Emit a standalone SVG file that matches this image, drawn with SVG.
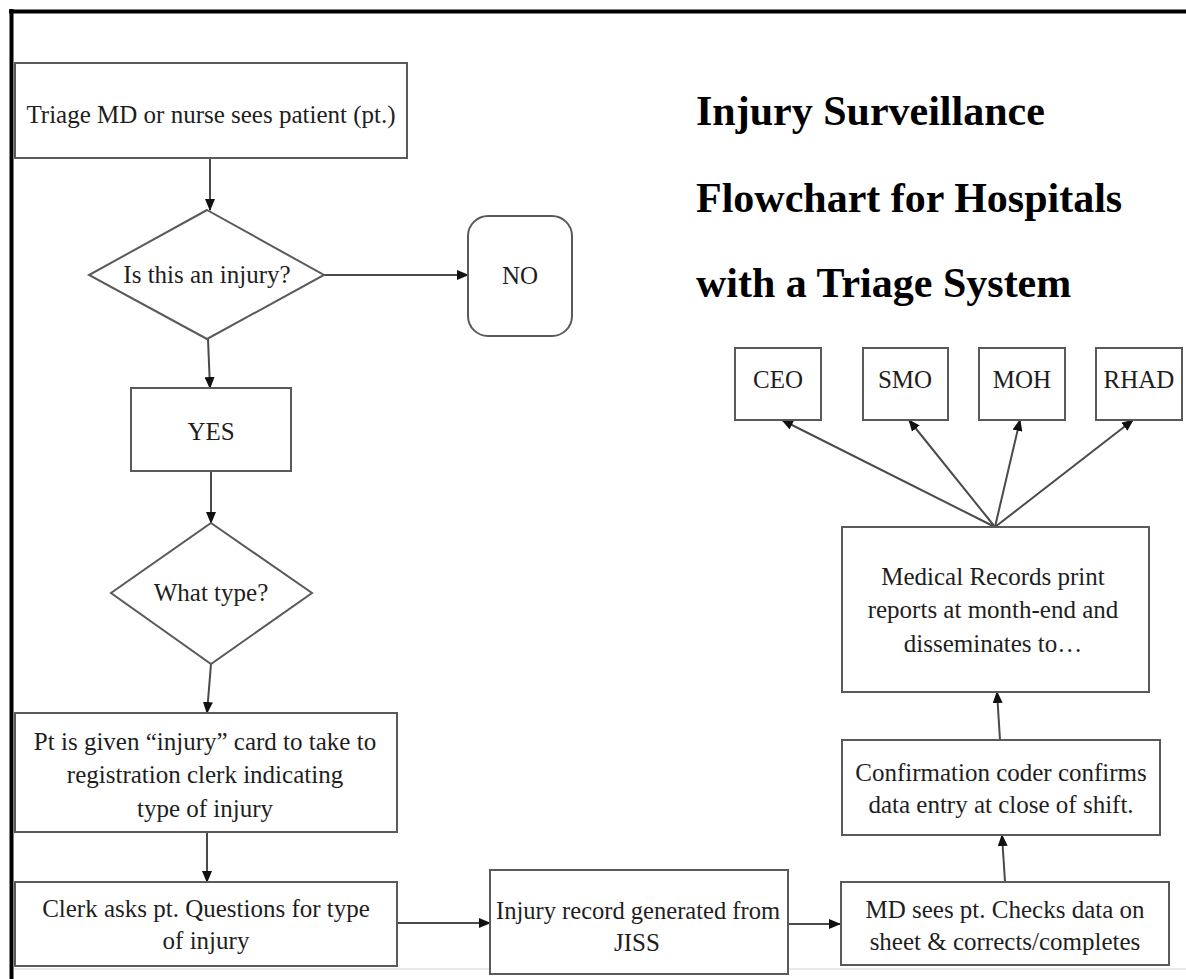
<svg xmlns="http://www.w3.org/2000/svg" width="1186" height="979" viewBox="0 0 1186 979">
  <style>
    .box { fill: #fff; stroke: #5a5a5a; stroke-width: 2; }
    .lbl { font-family: 'Liberation Serif', 'Times New Roman', Times, 'DejaVu Serif', serif; font-weight: normal; font-size: 25px; fill: #1e1e1e; text-anchor: middle; }
    .title { font-family: 'Liberation Serif', 'Times New Roman', Times, serif; font-size: 42px; font-weight: bold; fill: #000; }
    .conn { stroke: #4a4a4a; stroke-width: 2; fill: none; marker-end: url(#arrow); }
  </style>
  <defs>
    <marker id="arrow" markerUnits="userSpaceOnUse" markerWidth="12" markerHeight="10" refX="11" refY="5" orient="auto">
      <path d="M0,0 L12,5 L0,10 Z" fill="#111"/>
    </marker>
  </defs>

  <rect width="1186" height="979" fill="#fff"/>

  <!-- page frame -->
  <g id="frame">
    <line x1="9" y1="11.5" x2="1186" y2="11.5" stroke="#000" stroke-width="4"/>
    <line x1="11.5" y1="9" x2="11.5" y2="979" stroke="#000" stroke-width="4"/>
    <line x1="14" y1="969" x2="1186" y2="969" stroke="#d4d4d4" stroke-width="1"/>
  </g>

  <!-- title -->
  <g id="title">
    <text class="title" x="696" y="125">Injury Surveillance</text>
    <text class="title" x="696" y="212">Flowchart for Hospitals</text>
    <text class="title" x="696" y="297">with a Triage System</text>
  </g>

  <g id="connectors">
    <line class="conn" x1="210" y1="158" x2="210" y2="210"/>
    <line class="conn" x1="324" y1="275" x2="468" y2="275"/>
    <line class="conn" x1="208" y1="339" x2="210" y2="388"/>
    <line class="conn" x1="211" y1="471" x2="211" y2="523"/>
    <line class="conn" x1="211" y1="664" x2="207" y2="713"/>
    <line class="conn" x1="207" y1="832" x2="207" y2="882"/>
    <line class="conn" x1="397" y1="923" x2="490" y2="923"/>
    <line class="conn" x1="788" y1="924" x2="840" y2="924"/>
    <line class="conn" x1="1005" y1="882" x2="1002" y2="835"/>
    <line class="conn" x1="1000" y1="740" x2="997" y2="692"/>
    <line class="conn" x1="995" y1="527" x2="782" y2="420"/>
    <line class="conn" x1="995" y1="527" x2="909" y2="420"/>
    <line class="conn" x1="995" y1="527" x2="1020" y2="420"/>
    <line class="conn" x1="995" y1="527" x2="1133" y2="420"/>
  </g>

  <g id="triage">
    <rect class="box" x="15" y="63" width="392" height="95"/>
    <text class="lbl" x="211" y="123">Triage MD or nurse sees patient (pt.)</text>
  </g>

  <g id="is-injury">
    <polygon class="box" points="207,210 324,275 207,339 89,275"/>
    <text class="lbl" x="207" y="283">Is this an injury?</text>
  </g>

  <g id="no">
    <rect class="box" x="468" y="216" width="104" height="120" rx="20" ry="20"/>
    <text class="lbl" x="520" y="284">NO</text>
  </g>

  <g id="yes">
    <rect class="box" x="131" y="388" width="160" height="83"/>
    <text class="lbl" x="211" y="440">YES</text>
  </g>

  <g id="what-type">
    <polygon class="box" points="211,523 312,593 211,664 111,593"/>
    <text class="lbl" x="211" y="601">What type?</text>
  </g>

  <g id="injury-card">
    <rect class="box" x="15" y="713" width="382" height="119"/>
    <text class="lbl" x="205" y="750">Pt is given “injury” card to take to</text>
    <text class="lbl" x="205" y="783">registration clerk indicating</text>
    <text class="lbl" x="205" y="817">type of injury</text>
  </g>

  <g id="clerk">
    <rect class="box" x="15" y="882" width="382" height="84"/>
    <text class="lbl" x="206" y="917">Clerk asks pt. Questions for type</text>
    <text class="lbl" x="206" y="949">of injury</text>
  </g>

  <g id="jiss-record">
    <rect class="box" x="490" y="870" width="298" height="104"/>
    <text class="lbl" x="638" y="919" textLength="284" lengthAdjust="spacingAndGlyphs">Injury record generated  from</text>
    <text class="lbl" x="637" y="951">JISS</text>
  </g>

  <g id="md-check">
    <rect class="box" x="841" y="882" width="328" height="83"/>
    <text class="lbl" x="1005" y="918">MD sees pt. Checks data on</text>
    <text class="lbl" x="1005" y="950">sheet &amp; corrects/completes</text>
  </g>

  <g id="coder">
    <rect class="box" x="842" y="740" width="318" height="95"/>
    <text class="lbl" x="1001" y="781">Confirmation coder confirms</text>
    <text class="lbl" x="1001" y="813">data entry at close of shift.</text>
  </g>

  <g id="records">
    <rect class="box" x="842" y="527" width="307" height="165"/>
    <text class="lbl" x="993" y="585">Medical Records print</text>
    <text class="lbl" x="993" y="618">reports at month-end and</text>
    <text class="lbl" x="993" y="652">disseminates to…</text>
  </g>

  <g id="ceo">
    <rect class="box" x="735" y="348" width="86" height="72"/>
    <text class="lbl" x="778" y="388">CEO</text>
  </g>
  <g id="smo">
    <rect class="box" x="863" y="348" width="85" height="72"/>
    <text class="lbl" x="905" y="388">SMO</text>
  </g>
  <g id="moh">
    <rect class="box" x="979" y="348" width="86" height="72"/>
    <text class="lbl" x="1022" y="388">MOH</text>
  </g>
  <g id="rhad">
    <rect class="box" x="1096" y="348" width="86" height="72"/>
    <text class="lbl" x="1139" y="388">RHAD</text>
  </g>
</svg>
